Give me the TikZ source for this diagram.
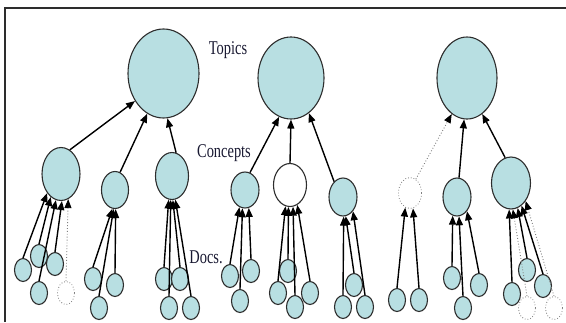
\documentclass[tikz,border=0pt]{standalone}
\usepackage{fontspec}
\setmainfont{Liberation Serif}
\usepackage{graphicx}
\usetikzlibrary{arrows.meta, shapes.geometric}

\definecolor{blobfill}{RGB}{184,223,226}
\definecolor{rim}{RGB}{45,45,45}
\definecolor{ink}{RGB}{25,25,50}

\begin{document}
\begin{tikzpicture}[x=1pt, y=-1pt,
        blob/.style={ellipse, draw=rim, line width=1.1pt, fill=blobfill, inner sep=0pt},
        hollow/.style={blob, fill=white},
        ghost/.style={ellipse, draw=gray, dotted, line width=0.8pt, fill=white, inner sep=0pt},
        wh/.style 2 args={minimum width=#1pt, minimum height=#2pt},
        doc/.style={blob, wh={17}{23}},
        ghostdoc/.style={ghost, wh={17}{23}},
        arr/.style={line width=1.4pt, -{Triangle[length=9pt, width=7pt, color=black]}},
        faint/.style={arr, draw=gray, line width=0.9pt, dotted},
        lbl/.style={text=ink, font=\fontsize{19.5}{20}\selectfont, inner sep=0pt}]

    \useasboundingbox (0,0) rectangle (566,322);
    \draw[rim, line width=1.2pt] (5,322) -- (5,8) -- (566,8);

    % topics
    \node[blob, wh={71}{89}] (t1) at (163.5,73.5) {};
    \node[blob, wh={66}{82}] (t2) at (291,78) {};
    \node[blob, wh={60}{82}] (t3) at (467,78) {};

    % concepts
    \node[blob, wh={38}{53}] (c1a) at (61,174) {};
    \node[blob, wh={27}{37}] (c1b) at (115,190) {};
    \node[blob, wh={33}{47}] (c1c) at (172,176) {};
    \node[blob, wh={28}{36}] (c2a) at (245,190) {};
    \node[hollow, wh={33}{43}] (c2b) at (290,185) {};
    \node[blob, wh={28}{38}] (c2c) at (343,197) {};
    \node[ghost, wh={23}{31}] (c3a) at (410,193) {};
    \node[blob, wh={28}{38}] (c3b) at (457,197) {};
    \node[blob, wh={39}{52}] (c3c) at (511,183) {};

    % docs
    \foreach \n/\x/\y in {a1/23/270, a2/39/256, a3/55/264, a4/39/293,
                          b1/93/279, b2/115/285, b3/99/308,
                          c1/164/279, c2/180/279, c3/169/308, c4/191/308,
                          e1/230/276, e2/251/271, e3/240/301,
                          f1/288/271, f2/278/293, f3/295/307, f4/310/293,
                          g1/354/285, g2/343/307, g3/365/307,
                          h1/397/300, h2/419/300,
                          i1/452/278, i2/479/285, i3/463/308,
                          j1/512/294, j2/527/270, j3/543/286}
        \node[doc] (\n) at (\x,\y) {};
    \foreach \n/\x/\y in {a5/66/293, j4/527/308, j5/554/308}
        \node[ghostdoc] (\n) at (\x,\y) {};

    \node[lbl] (topics) at (228,50) {\scalebox{0.74}[1]{Topics}};
    \node[lbl] (concepts) at (224,153) {\scalebox{0.74}[1]{Concepts}};
    \node[lbl] (docs) at (206,257) {\scalebox{0.74}[1]{Docs.}};

    % docs -> concepts
    \foreach \src/\dst in {a1/c1a.234, a2/c1a.246, a4/c1a.259, a3/c1a.272,
                           b1/c1b.262, b3/c1b.266, b2/c1b.272,
                           c1/c1c.262, c3/c1c.267, c2/c1c.272, c4/c1c.278,
                           e1/c2a.252, e3/c2a.262, e2/c2a.282,
                           f2/c2b.258, f1/c2b.266, f3/c2b.278, f4/c2b.290,
                           g2/c2c.272, g1/c2c.278, g3/c2c.305,
                           h1/c3a.252, h2/c3a.281,
                           i1/c3b.257, i3/c3b.276, i2/c3b.305,
                           j1/c3c.266, j2/c3c.285, j3/c3c.295}
        \draw[arr] (\src.north) -- (\dst);
    \foreach \src/\dst in {a5/c1a.286, j4/c3c.274, j5/c3c.309}
        \draw[faint] (\src.north) -- (\dst);

    % concepts -> topics
    \draw[arr] (c1a.70) -- (t1.224);
    \draw[arr] (c1b.74) -- (t1.248);
    \draw[arr] (c1c.80) -- (t1.275);
    \draw[arr] (c2a.74) -- (t2.253);
    \draw[arr] (c2b.90) -- (t2.270);
    \draw[arr] (c2c.120) -- (t2.297);
    \draw[faint] (c3a.67) -- (t3.247);
    \draw[arr] (c3b.84) -- (t3.266);
    \draw[arr] (c3c.103) -- (t3.293);
\end{tikzpicture}
\end{document}
